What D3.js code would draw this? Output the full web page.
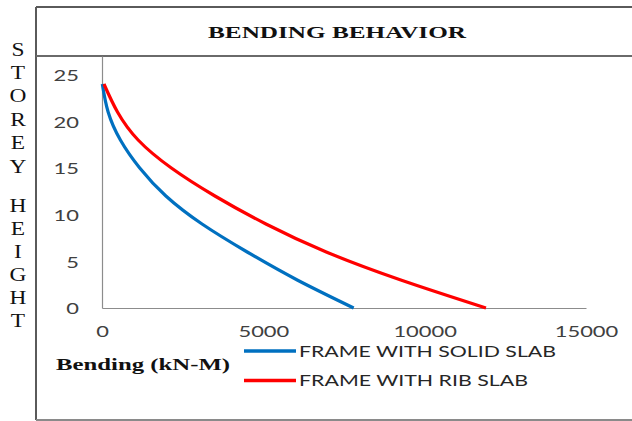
<!DOCTYPE html>
<html>
<head>
<meta charset="utf-8">
<script src="https://cdn.jsdelivr.net/npm/d3@7"></script>
<style>
  html, body { margin: 0; padding: 0; background: #fff; }
  svg { display: block; }
</style>
</head>
<body>
<div id="chart"></div>
<script>
/* data */
var heights    = [0, 3, 6, 9, 12, 15, 18, 21, 24];
var solidSlab  = [7800, 6050, 4500, 3100, 1980, 1170, 570, 190, 10];
var ribSlab    = [11900, 9260, 6950, 5080, 3500, 2150, 1120, 480, 60];
var xTicks     = [0, 5000, 10000, 15000];
var yTicks     = [0, 5, 10, 15, 20, 25];
var seriesNames = ['FRAME WITH SOLID SLAB', 'FRAME WITH RIB SLAB'];
var axisLetters = ['S', 'T', 'O', 'R', 'E', 'Y', '', 'H', 'E', 'I', 'G', 'H', 'T'];

var W = 632, H = 421;
var stretch = 1.37;   // the picture is squeezed wide, glyphs look stretched

var svg = d3.select('#chart').append('svg')
  .attr('width', W).attr('height', H);

/* frame around the chart */
var frame = svg.append('g').attr('stroke', '#5a5a5a').attr('stroke-width', 2).attr('fill', 'none');
frame.append('line').attr('x1', 36).attr('x2', 36).attr('y1', 7).attr('y2', 420);
frame.append('line').attr('x1', 36).attr('x2', W).attr('y1', 7).attr('y2', 7);
frame.append('line').attr('x1', 36).attr('x2', W).attr('y1', 56).attr('y2', 56).attr('stroke', '#6a6a6a');
frame.append('line').attr('x1', 36).attr('x2', W).attr('y1', 420).attr('y2', 420).attr('stroke', '#8a8a8a');

/* title */
svg.append('text')
  .attr('x', 208).attr('y', 38)
  .attr('textLength', 258).attr('lengthAdjust', 'spacingAndGlyphs')
  .style('font-family', '"Liberation Serif", "DejaVu Serif", serif')
  .style('font-weight', 'bold').style('font-size', '17.5px')
  .attr('fill', '#111')
  .text('BENDING BEHAVIOR');

/* scales */
var x = d3.scaleLinear().domain([0, 15000]).range([102, 586]);
var y = d3.scaleLinear().domain([0, 27]).range([308, 56]);

/* axes */
var xAxis = svg.append('g')
  .attr('transform', 'translate(0,' + y(0) + ')')
  .call(d3.axisBottom(x).tickValues(xTicks).tickSize(0).tickFormat(d3.format('d')));

var yAxis = svg.append('g')
  .attr('transform', 'translate(' + x(0) + ',0)')
  .call(d3.axisLeft(y).tickValues(yTicks).tickSize(0).tickSizeOuter(0));

[xAxis, yAxis].forEach(function (ax) {
  ax.select('.domain').attr('stroke', '#8c8c8c').attr('stroke-width', 1.2);
  ax.selectAll('text')
    .style('font-family', 'Lato, "Open Sans", sans-serif')
    .style('font-size', '16px')
    .attr('fill', '#404040');
});

xAxis.selectAll('text')
  .attr('y', 0).attr('dy', 0)
  .attr('transform', 'translate(0,29) scale(' + stretch + ',1)');

yAxis.selectAll('text')
  .attr('x', 0).attr('dy', '0.36em')
  .attr('transform', 'translate(-23,0) scale(' + stretch + ',1)');

/* vertical axis title, one letter per line */
svg.append('g').selectAll('text')
  .data(axisLetters)
  .join('text')
  .attr('text-anchor', 'middle')
  .attr('transform', function (d, i) {
    var cy = i < 6 ? 49 + i * 23.4 : 205 + (i - 7) * 23.1;
    return 'translate(18,' + (cy + 6.5) + ') scale(1.3,1)';
  })
  .style('font-family', '"Liberation Serif", "DejaVu Serif", serif')
  .style('font-size', '18px')
  .attr('fill', '#111')
  .text(function (d) { return d; });

/* curves */
var line = d3.line()
  .x(function (d) { return x(d.v); })
  .y(function (d) { return y(d.h); })
  .curve(d3.curveNatural);

var series = [
  { name: seriesNames[0], color: '#0070C0', values: solidSlab },
  { name: seriesNames[1], color: '#FF0000', values: ribSlab }
];

svg.append('g').selectAll('path')
  .data(series)
  .join('path')
  .attr('fill', 'none')
  .attr('stroke', function (d) { return d.color; })
  .attr('stroke-width', 3.2)
  .attr('d', function (s) {
    return line(heights.map(function (h, i) { return { h: h, v: s.values[i] }; }));
  });

/* x axis title */
svg.append('text')
  .attr('x', 56).attr('y', 370)
  .attr('textLength', 174).attr('lengthAdjust', 'spacingAndGlyphs')
  .style('font-family', '"Liberation Serif", "DejaVu Serif", serif')
  .style('font-weight', 'bold').style('font-size', '17px')
  .attr('fill', '#111')
  .text('Bending (kN-M)');

/* legend */
var legend = svg.append('g').selectAll('g')
  .data(series)
  .join('g')
  .attr('transform', function (d, i) { return 'translate(0,' + (351 + i * 29.5) + ')'; });

legend.append('line')
  .attr('x1', 244).attr('x2', 296)
  .attr('stroke', function (d) { return d.color; })
  .attr('stroke-width', 3.5);

legend.append('text')
  .attr('x', 299).attr('y', 5.5)
  .attr('textLength', function (d, i) { return i === 0 ? 257 : 229; })
  .attr('lengthAdjust', 'spacingAndGlyphs')
  .style('font-family', 'Lato, "Open Sans", sans-serif')
  .style('font-size', '15px')
  .attr('fill', '#262626')
  .text(function (d) { return d.name; });
</script>
</body>
</html>
